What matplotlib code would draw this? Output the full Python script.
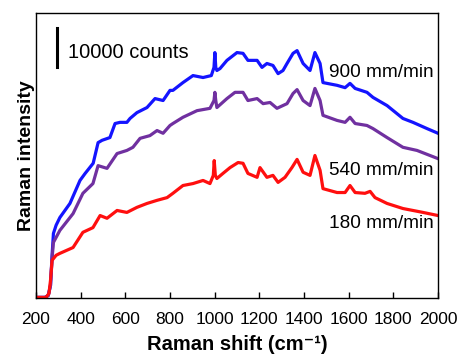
import matplotlib
matplotlib.use("Agg")
from matplotlib import pyplot as plt

plt.rcParams["font.family"] = ["Liberation Sans", "DejaVu Sans"]

# Raman spectra (shift in cm-1, intensity in counts)
shift_900 = [200, 240, 255, 265, 272, 278, 290, 307, 352, 397, 420, 456, 478, 496, 531,
             554, 576, 607, 621, 652, 697, 733, 769, 800, 813, 858, 903, 948, 985, 997,
             1001, 1005, 1010, 1024, 1055, 1100, 1127, 1149, 1190, 1212, 1234, 1261,
             1284, 1306, 1324, 1351, 1369, 1396, 1427, 1449, 1472, 1485, 1548, 1584,
             1606, 1629, 1682, 1709, 1772, 1843, 1888, 1951, 2000]
int_900 = [0, 0, 500, 3100, 10800, 16400, 18500, 20500, 24100, 30000, 31800, 34400,
           39700, 40300, 41000, 44600, 44900, 44900, 45900, 47400, 48700, 51000, 50500,
           53100, 53100, 55100, 56900, 56400, 56900, 59000, 62800, 59000, 58200, 58700,
           60800, 62800, 62600, 60800, 60800, 59000, 60000, 59500, 57400, 58200, 60000,
           62600, 63300, 60000, 58200, 62800, 60000, 55100, 54400, 53800, 54900, 53600,
           52600, 51300, 49200, 45900, 44900, 43300, 42100]

shift_540 = [200, 240, 255, 265, 272, 278, 307, 366, 410, 455, 478, 518, 563, 607, 634,
             666, 710, 742, 769, 800, 813, 858, 921, 979, 997, 1001, 1005, 1010, 1055,
             1091, 1127, 1149, 1190, 1217, 1248, 1279, 1324, 1351, 1369, 1396, 1427,
             1449, 1472, 1485, 1548, 1584, 1606, 1629, 1682, 1709, 1772, 1843, 1906, 2000]
int_540 = [0, 0, 500, 3100, 10000, 14100, 17200, 21500, 26700, 29200, 33800, 33100,
           36900, 37700, 38500, 40800, 41500, 42800, 42100, 44100, 44600, 46200, 47900,
           48500, 50500, 52600, 50500, 48700, 51000, 52600, 52600, 50500, 51000, 49700,
           50000, 48500, 49700, 52300, 53300, 50500, 49200, 53600, 50500, 46700, 45400,
           44900, 46200, 44600, 44100, 43300, 41000, 38500, 37700, 35600]

shift_180 = [200, 245, 258, 265, 272, 290, 307, 366, 410, 455, 487, 518, 563, 607, 652,
             697, 742, 787, 813, 858, 903, 948, 979, 994, 998, 1003, 1010, 1037, 1069,
             1105, 1127, 1149, 1190, 1203, 1234, 1261, 1284, 1315, 1346, 1369, 1396,
             1427, 1449, 1472, 1485, 1548, 1584, 1606, 1629, 1673, 1696, 1718, 1772,
             1843, 1933, 2000]
int_180 = [0, 0, 1000, 4400, 9500, 10800, 11300, 12800, 16700, 17900, 21000, 20300,
           22300, 21800, 23100, 24100, 24900, 25600, 26700, 28700, 29200, 30000, 29200,
           31300, 35100, 31300, 30500, 31800, 33300, 34600, 34400, 31800, 30800, 33300,
           30800, 31300, 29500, 30800, 33300, 35400, 32100, 31300, 36400, 32600, 27900,
           26900, 26900, 28700, 26900, 26700, 27200, 25600, 24100, 22800, 21800, 21000]

x_ticks = [200, 400, 600, 800, 1000, 1200, 1400, 1600, 1800, 2000]

fig = plt.figure(figsize=(4.58, 3.58), dpi=100)
ax = fig.add_axes([0.0786, 0.1676, 0.8777, 0.7961])

ax.plot(shift_900, int_900, color="#1414ff", lw=2.3, solid_joinstyle="round")
ax.plot(shift_540, int_540, color="#7030a0", lw=2.3, solid_joinstyle="round")
ax.plot(shift_180, int_180, color="#ff0f0f", lw=2.3, solid_joinstyle="round")

# scale bar
ax.plot([294, 294], [59000, 69000], color="black", lw=2.2)
ax.text(343, 62800, "10000 counts", fontsize=14.5, va="center", ha="left")

ax.text(1512, 57700, "900 mm/min", fontsize=13.7, va="center", ha="left")
ax.text(1512, 32600, "540 mm/min", fontsize=13.7, va="center", ha="left")
ax.text(1512, 19000, "180 mm/min", fontsize=13.7, va="center", ha="left")

ax.set_xlim(200, 2000)
ax.set_ylim(-150, 72950)
ax.set_xticks(x_ticks)
ax.set_yticks([])
ax.tick_params(axis="x", direction="in", length=4, width=1, labelsize=12.5, pad=10)
for s in ax.spines.values():
    s.set_linewidth(1)

ax.set_xlabel("Raman shift (cm⁻¹)", fontsize=14.5, fontweight="bold", labelpad=6)
ax.set_ylabel("Raman intensity", fontsize=14, fontweight="bold", labelpad=1)

fig.savefig("out.png", dpi=100)
